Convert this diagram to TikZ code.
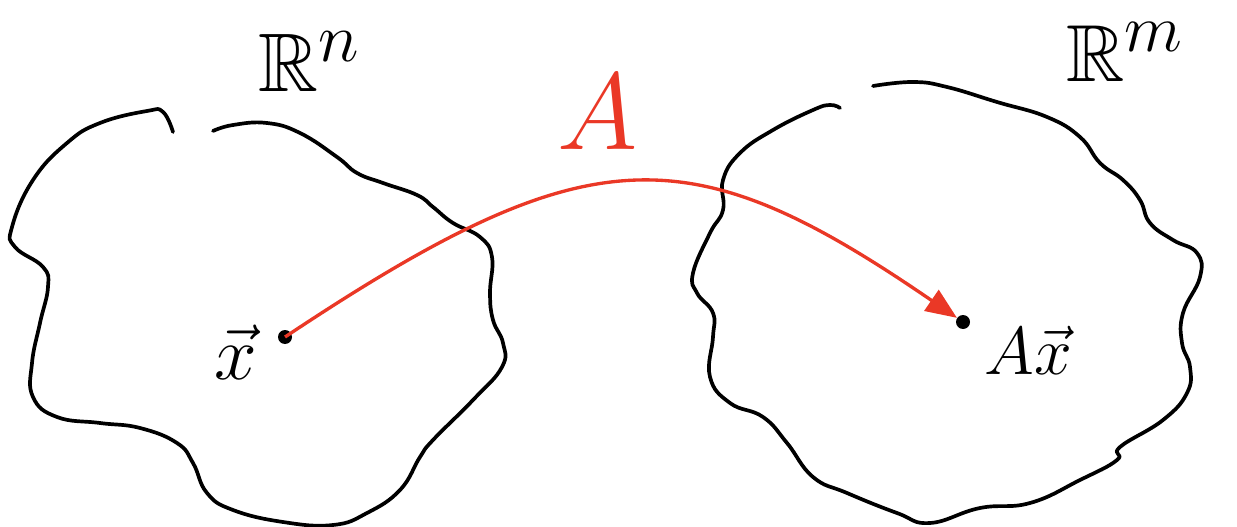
\documentclass[tikz,border=0pt]{standalone}
\usepackage{amssymb}
\usetikzlibrary{arrows.meta}
\definecolor{mapred}{RGB}{234,56,38}
\tikzset{
  blob/.style={line width=2.1pt, line cap=round, line join=round},
  pt/.style={circle, fill=black, minimum size=0.28cm, inner sep=0pt},
  maparrow/.style={mapred, line width=1.9pt, -{Triangle[length=0.62cm, width=0.5cm]}},
  lab/.style={inner sep=0pt, font=\Huge, transform shape},
}
\begin{document}
\begin{tikzpicture}[x=0.02cm, y=-0.02cm]
\useasboundingbox (0,0) rectangle (1237,527);

% domain R^n (open at the top)
\draw[blob] plot[smooth, tension=0.75] coordinates {
  (173,132) (163,112) (147,111) (100,123) (67,143) (33,180) (12,227) (15,247)
  (43,267) (48,287) (40,323) (32,363) (33,397) (57,417) (100,423) (140,428)
  (177,443) (193,463) (207,493) (233,510) (283,522) (333,525) (367,513)
  (400,490) (420,457) (433,440) (473,400) (502,367) (503,343) (493,320)
  (490,293) (492,257) (480,237) (453,223) (433,207) (417,195) (383,183)
  (357,173) (337,157) (300,133) (267,123) (233,125) (213,131)};

% codomain R^m (open at the top)
\draw[blob] plot[smooth, tension=0.75] coordinates {
  (873,86) (913,82) (947,87) (997,102) (1047,117) (1080,137) (1100,163)
  (1123,180) (1140,200) (1150,223) (1173,240) (1197,253) (1200,277)
  (1183,313) (1182,343) (1190,367) (1187,393) (1163,420) (1120,447)
  (1117,460) (1080,480) (1030,503) (980,508) (930,523) (897,513) (847,493)
  (813,477) (787,443) (763,417) (730,403) (710,377) (713,337) (713,313)
  (697,293) (693,273) (710,233) (723,210) (723,180) (740,153) (773,130)
  (813,110) (830,105) (840,108)};

% space labels
\node[lab, scale=1.9] (Rn) at (310,62) {$\mathbb{R}^{n}$};
\node[lab, scale=1.85] (Rm) at (1125,52) {$\mathbb{R}^{m}$};

% points
\node[pt] (x) at (285,337) {};
\node[pt] (Ax) at (963,322) {};

% point labels
\node[lab, scale=1.75] (xlab) at (236,352) {$\vec{x}$};
\node[lab, scale=1.55] (Axlab) at (1028,350) {$A\vec{x}$};

% the map
\draw[maparrow] (x.center) .. controls (590,134) and (689,134) .. (Ax);
\node[lab, scale=2.5, text=mapred] (A) at (598,112) {$A$};
\end{tikzpicture}
\end{document}
